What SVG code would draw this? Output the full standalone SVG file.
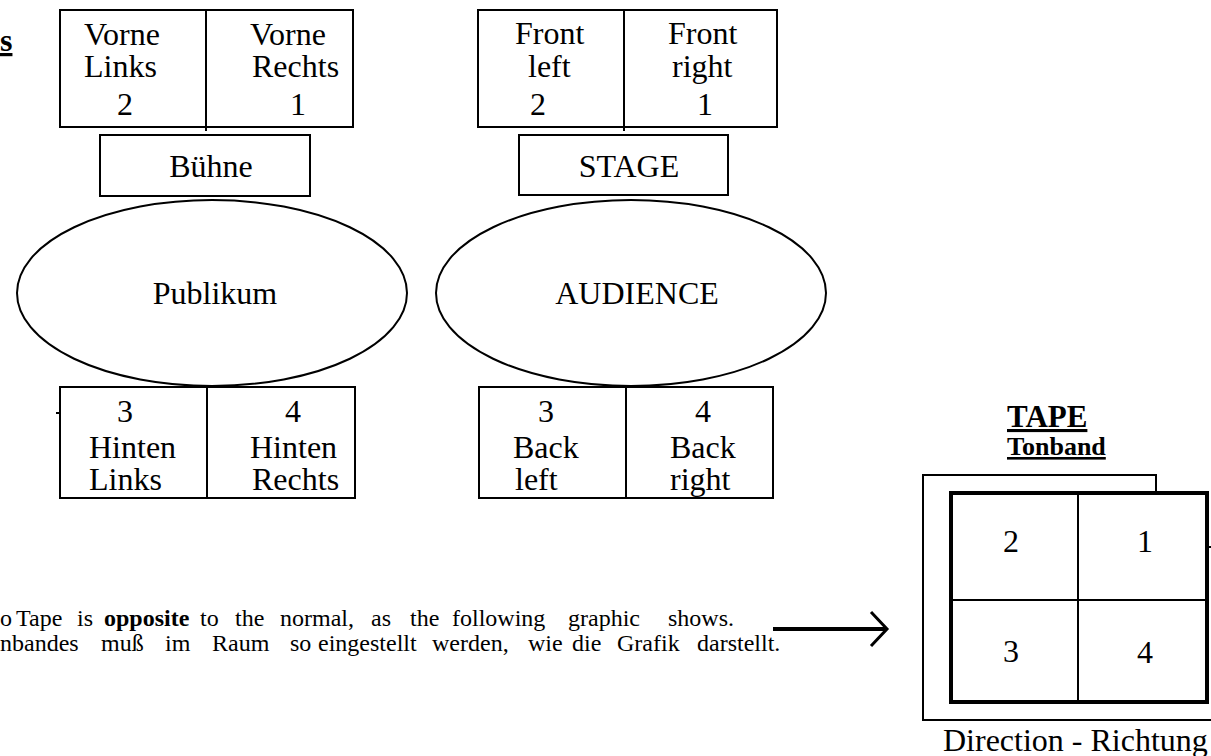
<svg xmlns="http://www.w3.org/2000/svg" width="1211" height="756" viewBox="0 0 1211 756">
<style>
.t{font-family:"Liberation Serif","Times New Roman",serif;font-size:32px;fill:#000}
.b{font-weight:bold;text-decoration:underline}
.s{font-size:24px}
.ln{fill:none;stroke:#000;stroke-width:2}
.thk{fill:none;stroke:#000;stroke-width:4}
</style>
<rect width="1211" height="756" fill="#fff"/>
<text id="title-fragment" class="t b" x="0" y="51">s</text>

<g id="de-front">
<rect class="ln" x="60" y="10" width="293" height="117"/>
<line class="ln" x1="206" y1="10" x2="206" y2="131"/>
<text class="t" x="84" y="45">Vorne</text>
<text class="t" x="84" y="77">Links</text>
<text class="t" x="117" y="115">2</text>
<text class="t" x="250" y="45">Vorne</text>
<text class="t" x="252" y="77">Rechts</text>
<text class="t" x="290" y="115">1</text>
</g>
<g id="de-stage">
<rect class="ln" x="100" y="135" width="210" height="61"/>
<text class="t" x="211" y="177" text-anchor="middle">Bühne</text>
</g>
<g id="de-audience">
<ellipse class="ln" cx="212" cy="293" rx="195" ry="93"/>
<text class="t" x="215" y="304" text-anchor="middle">Publikum</text>
</g>
<g id="de-back">
<rect class="ln" x="60" y="387" width="295" height="111"/>
<line class="ln" x1="207" y1="387" x2="207" y2="498"/>
<line class="ln" x1="56" y1="413" x2="60" y2="413"/>
<text class="t" x="117" y="422">3</text>
<text class="t" x="89" y="458">Hinten</text>
<text class="t" x="89" y="490">Links</text>
<text class="t" x="285" y="422">4</text>
<text class="t" x="250" y="458">Hinten</text>
<text class="t" x="252" y="490">Rechts</text>
</g>

<g id="en-front">
<rect class="ln" x="478" y="10" width="299" height="117"/>
<line class="ln" x1="624" y1="10" x2="624" y2="131"/>
<text class="t" x="515" y="44">Front</text>
<text class="t" x="528" y="77">left</text>
<text class="t" x="530" y="115">2</text>
<text class="t" x="668" y="44">Front</text>
<text class="t" x="672" y="77">right</text>
<text class="t" x="697" y="115">1</text>
</g>
<g id="en-stage">
<rect class="ln" x="519" y="135" width="209" height="60"/>
<text class="t" x="629" y="177" text-anchor="middle">STAGE</text>
</g>
<g id="en-audience">
<ellipse class="ln" cx="631" cy="293" rx="195" ry="93"/>
<text class="t" x="637" y="304" text-anchor="middle">AUDIENCE</text>
</g>
<g id="en-back">
<rect class="ln" x="479" y="387" width="294" height="111"/>
<line class="ln" x1="626" y1="387" x2="626" y2="498"/>
<text class="t" x="538" y="422">3</text>
<text class="t" x="513" y="458">Back</text>
<text class="t" x="515" y="490">left</text>
<text class="t" x="695" y="422">4</text>
<text class="t" x="670" y="458">Back</text>
<text class="t" x="670" y="490">right</text>
</g>

<g id="note">
<text class="t s" y="626"><tspan x="0">o</tspan> <tspan x="16">Tape</tspan> <tspan x="77">is</tspan> <tspan x="104" font-weight="bold">opposite</tspan> <tspan x="200">to</tspan> <tspan x="235">the</tspan> <tspan x="280">normal,</tspan> <tspan x="371">as</tspan> <tspan x="410">the</tspan> <tspan x="452">following</tspan> <tspan x="568">graphic</tspan> <tspan x="668">shows.</tspan></text>
<text class="t s" y="651"><tspan x="0">nbandes</tspan> <tspan x="101">muß</tspan> <tspan x="165">im</tspan> <tspan x="212">Raum</tspan> <tspan x="290">so</tspan> <tspan x="318">eingestellt</tspan> <tspan x="432">werden,</tspan> <tspan x="528">wie</tspan> <tspan x="572">die</tspan> <tspan x="617">Grafik</tspan> <tspan x="697">darstellt.</tspan></text>
</g>

<g id="connectors">
<line x1="773" y1="629" x2="885" y2="629" stroke="#000" stroke-width="4"/>
<polyline points="871,612 887,629 871,646" fill="none" stroke="#000" stroke-width="3"/>
</g>

<g id="tape">
<text class="t b" x="1007" y="427" style="font-size:31px">TAPE</text>
<text class="t b" x="1007" y="455" style="font-size:26px">Tonband</text>
<path class="ln" d="M1156,491 V475 H923 V720 H1211"/>
<rect class="thk" x="951" y="493" width="256" height="209"/>
<line class="ln" x1="1078" y1="493" x2="1078" y2="702"/>
<line class="ln" x1="951" y1="600" x2="1207" y2="600"/>
<line class="ln" x1="1207" y1="547" x2="1211" y2="547"/>
<text class="t" x="1003" y="552">2</text>
<text class="t" x="1137" y="552">1</text>
<text class="t" x="1003" y="662">3</text>
<text class="t" x="1137" y="663">4</text>
<text class="t" x="943" y="751">Direction - Richtung</text>
</g>
</svg>
